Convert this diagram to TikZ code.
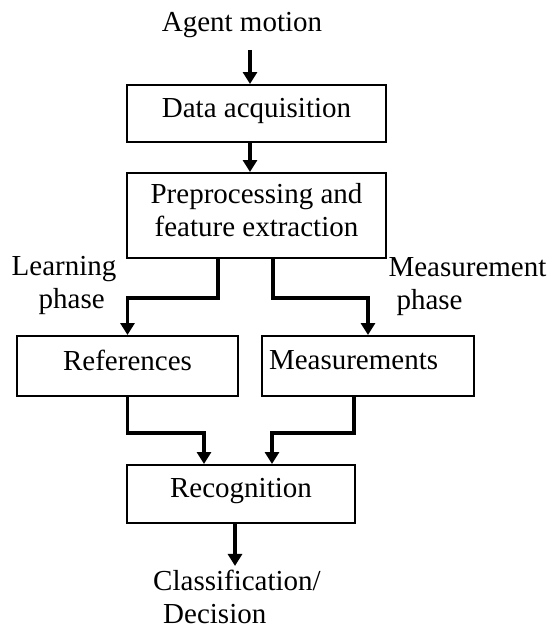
\documentclass[tikz,border=0pt]{standalone}
\usepackage{fontspec}
\setmainfont{Liberation Serif}
\usetikzlibrary{arrows.meta}
\newcommand\mydrop{\rule[-12pt]{0pt}{1pt}}
\begin{document}
\begin{tikzpicture}[x=1pt,y=-1pt,
  box/.style={draw, line width=2pt, inner sep=0pt, align=center},
  conn/.style={line width=3.5pt, -{Triangle[width=14pt,length=12pt]}},
  lbl/.style={inner sep=0pt, align=left},
  font=\fontsize{29}{33}\selectfont]
\useasboundingbox (0,0) rectangle (555,630);
\node[lbl] (agent) at (242,25) {Agent motion};
\node[box, minimum width=259, minimum height=57] (acq) at (256.5,113.5) {Data acquisition\mydrop};
\node[box, minimum width=259, minimum height=85] (pre) at (256.5,215.5) {Preprocessing and\\feature extraction\mydrop};
\node[box, minimum width=221, minimum height=60] (ref) at (127.5,366) {References\mydrop};
\node[box, minimum width=212, minimum height=60, text width=198pt, align=left] (meas) at (368,366) {Measurements\mydrop};
\node[box, minimum width=228, minimum height=58] (rec) at (241,494) {Recognition\mydrop};
\node[lbl] (learn) at (64,285) {Learning\\\hspace*{27pt}phase};
\node[lbl] (mlbl) at (467.5,286.5) {Measurement\\\hspace*{8pt}phase};
\node[lbl] (cls) at (237,597) {Classification/\\\hspace*{10pt}Decision};
\draw[conn] ([xshift=8pt,yshift=-12pt]agent.south) -- ([xshift=-6.5pt]acq.north);
\draw[conn] ([xshift=-6.5pt]acq.south) -- ([xshift=-6.5pt]pre.north);
\draw[conn] ([xshift=-38.5pt]pre.south) -- ++(0,39) -| (ref.north);
\draw[conn] ([xshift=16.5pt]pre.south) -- ++(0,39) -| (meas.north);
\draw[conn] (ref.south) -- ++(0,36) -| ([xshift=-37pt]rec.north);
\draw[conn] ([xshift=-14pt]meas.south) -- ++(0,36) -| ([xshift=31pt]rec.north);
\draw[conn] ([xshift=-6pt]rec.south) -- ([xshift=-2pt,yshift=4pt]cls.north);
\end{tikzpicture}
\end{document}
